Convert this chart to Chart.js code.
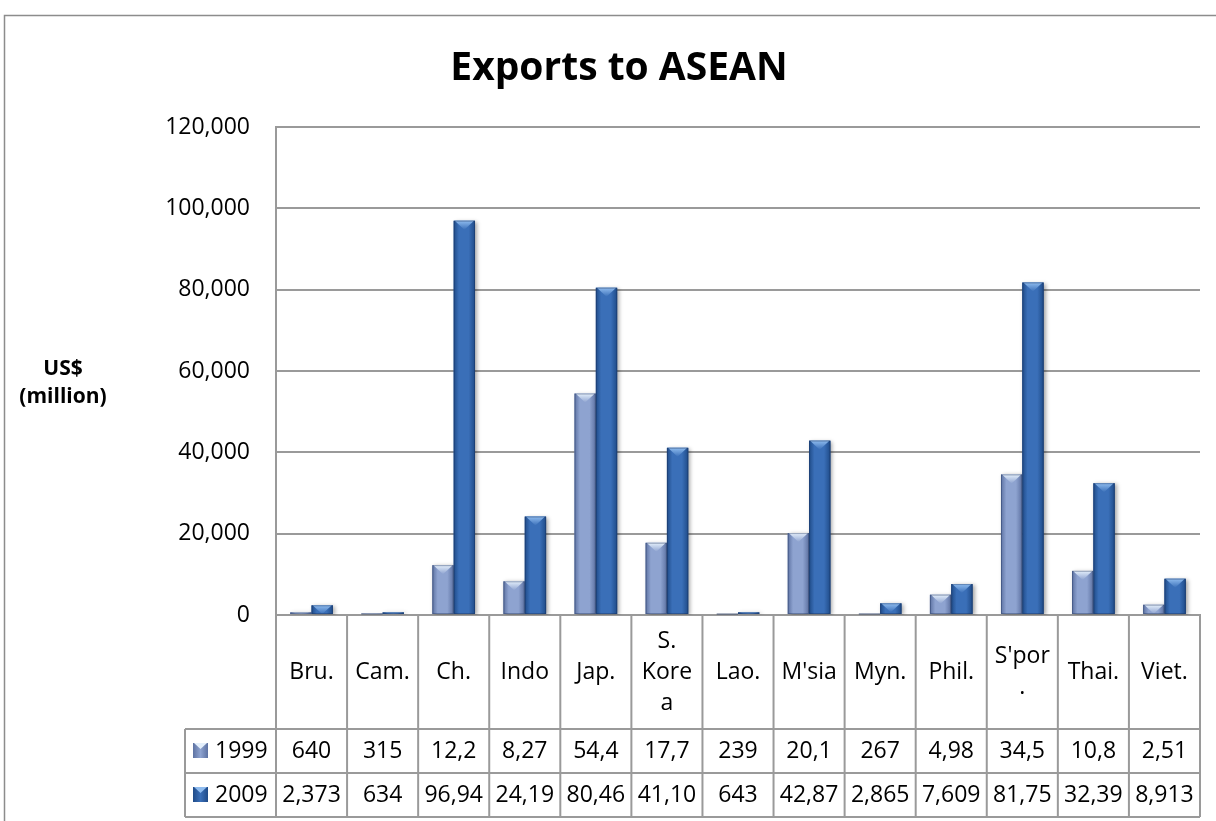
<!DOCTYPE html>
<html>
<head>
<meta charset="utf-8">
<title>Exports to ASEAN</title>
<script src="https://cdn.jsdelivr.net/npm/chart.js@4"></script>
<style>
    html, body { margin: 0; padding: 0; background: #fff; }
    #wrap { width: 1216px; height: 821px; position: relative; }
</style>
</head>
<body>
<div id="wrap"><canvas id="exportChart"></canvas></div>
<script>
// Exports to ASEAN, US$ million (1999 vs 2009)
const categories = [['Bru.'], ['Cam.'], ['Ch.'], ['Indo'], ['Jap.'], ['S.', 'Kore', 'a'], ['Lao.'],
    ["M'sia"], ['Myn.'], ['Phil.'], ["S'por", '.'], ['Thai.'], ['Viet.']];
const seriesNames = ['1999', '2009'];
const values1999 = [640, 315, 12250, 8275, 54450, 17750, 239, 20150, 267, 4985, 34550, 10850, 2515];
const values2009 = [2373, 634, 96945, 24195, 80465, 41105, 643, 42875, 2865, 7609, 81755, 32395, 8913];
// what the data table under the axis shows (cells clip the longer numbers)
const table1999 = ['640', '315', '12,2', '8,27', '54,4', '17,7', '239', '20,1', '267', '4,98', '34,5', '10,8', '2,51'];
const table2009 = ['2,373', '634', '96,94', '24,19', '80,46', '41,10', '643', '42,87', '2,865', '7,609', '81,75', '32,39', '8,913'];
const yTicks = [0, 20000, 40000, 60000, 80000, 100000, 120000];

const FONT = "'Open Sans', 'Noto Sans', sans-serif";
const LINE = '#9a9a9a';

// colours for the bevelled bars: [edge, middle, top highlight]
const barStyles = [
    { edge: '#5d72a2', mid: '#8ea3d0', light: '#e4effb' },
    { edge: '#1f4b88', mid: '#3a6fb8', light: '#8fbcef' }
];

function drawBevelBar(ctx, el, style) {
    const w = el.width;
    const left = el.x - w / 2;
    const right = el.x + w / 2;
    const top = Math.min(el.y, el.base);
    const h = Math.abs(el.base - el.y);
    if (h <= 0) return;

    ctx.save();
    ctx.shadowColor = 'rgba(0,0,0,0.35)';
    ctx.shadowBlur = 4;
    ctx.shadowOffsetX = 2;
    ctx.shadowOffsetY = 1;
    const g = ctx.createLinearGradient(left, 0, right, 0);
    g.addColorStop(0, style.edge);
    g.addColorStop(0.25, style.mid);
    g.addColorStop(0.7, style.mid);
    g.addColorStop(1, style.edge);
    ctx.fillStyle = g;
    ctx.fillRect(left, top, w, h);
    ctx.restore();

    // top bevel: a light wedge pointing down
    const b = Math.min(9, h);
    ctx.save();
    const tg = ctx.createLinearGradient(0, top, 0, top + b);
    tg.addColorStop(0, style.light);
    tg.addColorStop(1, style.mid);
    ctx.fillStyle = tg;
    ctx.beginPath();
    ctx.moveTo(left + 1, top);
    ctx.lineTo(right - 1, top);
    ctx.lineTo(el.x, top + b);
    ctx.closePath();
    ctx.fill();
    ctx.strokeStyle = 'rgba(20,40,80,0.35)';
    ctx.lineWidth = 1;
    ctx.strokeRect(left + 0.5, top + 0.5, w - 1, h - 1);
    ctx.restore();
}

function drawLegendKey(ctx, x, y, style) {
    const s = 15;
    const g = ctx.createLinearGradient(x, 0, x + s, 0);
    g.addColorStop(0, style.edge);
    g.addColorStop(0.5, style.mid);
    g.addColorStop(1, style.edge);
    ctx.fillStyle = g;
    ctx.fillRect(x, y, s, s);
    ctx.fillStyle = style.light;
    ctx.beginPath();
    ctx.moveTo(x + 1, y);
    ctx.lineTo(x + s - 1, y);
    ctx.lineTo(x + s / 2, y + 6);
    ctx.closePath();
    ctx.fill();
}

const bevelBars = {
    id: 'bevelBars',
    afterDatasetsDraw(chart) {
        const ctx = chart.ctx;
        ctx.save();
        ctx.beginPath();
        ctx.rect(chart.chartArea.left, 0, chart.chartArea.width, chart.chartArea.bottom);
        ctx.clip();
        chart.data.datasets.forEach((ds, i) => {
            chart.getDatasetMeta(i).data.forEach(el => drawBevelBar(ctx, el, barStyles[i]));
        });
        ctx.restore();
    }
};

const frameAndTitles = {
    id: 'frameAndTitles',
    beforeDraw(chart) {
        const ctx = chart.ctx;
        ctx.save();
        ctx.strokeStyle = '#8c8c8c';
        ctx.lineWidth = 1.5;
        ctx.strokeRect(4.5, 15.5, 1400, 1000);
        ctx.restore();
    },
    afterDraw(chart) {
        const ctx = chart.ctx;
        ctx.save();
        ctx.fillStyle = '#000';
        ctx.textAlign = 'center';
        ctx.textBaseline = 'alphabetic';
        ctx.font = `bold 39px ${FONT}`;
        ctx.fillText('Exports to ASEAN', 619, 80);

        ctx.font = `bold 21px ${FONT}`;
        ctx.textBaseline = 'middle';
        ctx.fillText('US$', 63, 369);
        ctx.fillText('(million)', 63, 397);
        ctx.restore();
    }
};

const dataTable = {
    id: 'dataTable',
    afterDraw(chart) {
        const { ctx, chartArea } = chart;
        const x = chart.scales.x;
        const half = (x.getPixelForValue(1) - x.getPixelForValue(0)) / 2;
        const top = chartArea.bottom;
        const headBottom = top + 114;
        const rowH = 44;
        const row1 = headBottom + rowH;
        const row2 = row1 + rowH;
        const legendLeft = 185;

        ctx.save();
        ctx.strokeStyle = LINE;
        ctx.lineWidth = 2;
        ctx.beginPath();
        // column separators
        for (let i = 0; i <= categories.length; i++) {
            const px = i < categories.length ? x.getPixelForValue(i) - half : x.getPixelForValue(i - 1) + half;
            ctx.moveTo(px, top);
            ctx.lineTo(px, row2);
        }
        // row lines
        [headBottom, row1, row2].forEach(py => {
            ctx.moveTo(legendLeft, py);
            ctx.lineTo(chartArea.right, py);
        });
        ctx.moveTo(legendLeft, headBottom);
        ctx.lineTo(legendLeft, row2);
        ctx.stroke();

        ctx.fillStyle = '#000';
        ctx.textAlign = 'center';
        ctx.textBaseline = 'middle';
        ctx.font = `23px ${FONT}`;
        const lineH = 31;
        categories.forEach((lines, i) => {
            const cx = x.getPixelForValue(i);
            const cy = top + 57 - (lines.length - 1) * lineH / 2;
            lines.forEach((t, j) => ctx.fillText(t, cx, cy + j * lineH));
            ctx.fillText(table1999[i], cx, headBottom + rowH / 2);
            ctx.fillText(table2009[i], cx, row1 + rowH / 2);
        });

        // series keys in the first column
        [headBottom, row1].forEach((py, i) => {
            drawLegendKey(ctx, 193, py + rowH / 2 - 8, barStyles[i]);
            ctx.fillStyle = '#000';
            ctx.textAlign = 'left';
            ctx.fillText(seriesNames[i], 215, py + rowH / 2);
        });
        ctx.restore();
    }
};

new Chart(document.getElementById('exportChart'), {
    type: 'bar',
    data: {
        labels: categories,
        datasets: [
            { label: seriesNames[0], data: values1999, backgroundColor: barStyles[0].mid },
            { label: seriesNames[1], data: values2009, backgroundColor: barStyles[1].mid }
        ]
    },
    options: {
        responsive: true,
        maintainAspectRatio: false,
        animation: false,
        categoryPercentage: 0.6,
        barPercentage: 1.0,
        layout: { padding: { top: 127, bottom: 198, right: 16, left: 0 } },
        plugins: {
            legend: { display: false },
            title: { display: false },
            tooltip: { enabled: false }
        },
        scales: {
            x: {
                ticks: { display: false },
                grid: { display: false },
                border: { display: true, color: LINE, width: 2 }
            },
            y: {
                min: 0,
                max: 120000,
                afterFit: s => { s.width = 276; },
                afterBuildTicks: s => { s.ticks = yTicks.map(v => ({ value: v })); },
                ticks: {
                    padding: 26,
                    color: '#000',
                    font: { family: FONT, size: 23 },
                    callback: v => v.toLocaleString('en-US')
                },
                grid: { color: LINE, lineWidth: 2, drawTicks: false, tickLength: 0 },
                border: { display: true, color: LINE, width: 2 }
            }
        }
    },
    plugins: [frameAndTitles, bevelBars, dataTable]
});
</script>
</body>
</html>
